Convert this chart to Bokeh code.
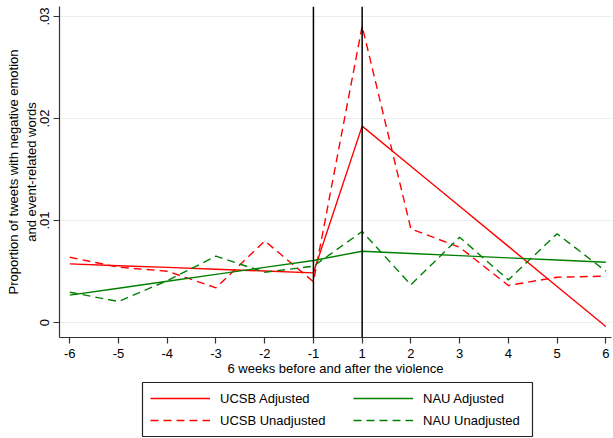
from bokeh.plotting import figure
from bokeh.models import FixedTicker, Span, Legend, LegendItem, Range1d, BoxAnnotation
from bokeh.layouts import column
from bokeh.embed import file_html
from bokeh.resources import INLINE

# ---- data ----
weeks = [-6, -5, -4, -3, -2, -1, 1, 2, 3, 4, 5, 6]
ucsb_adjusted = [0.00575, 0.00557, 0.0054, 0.00522, 0.00505, 0.00487,
                 0.01925, 0.01532, 0.01139, 0.00746, 0.00353, -0.00039]
ucsb_unadjusted = [0.0064, 0.00542, 0.00503, 0.0034, 0.0080, 0.0040,
                   0.02905, 0.00918, 0.00738, 0.00363, 0.00444, 0.00454]
nau_adjusted = [0.00268, 0.00336, 0.00404, 0.00472, 0.0054, 0.00608,
                0.00699, 0.00677, 0.00656, 0.00634, 0.00613, 0.00591]
nau_unadjusted = [0.00297, 0.00206, 0.0041, 0.0065, 0.00493, 0.00552,
                  0.00892, 0.0037, 0.00836, 0.00418, 0.0087, 0.00503]
y_ticks = [0, 0.01, 0.02, 0.03]
y_tick_labels = ["0", ".01", ".02", ".03"]
event_weeks = [-1, 1]

FONT = "Liberation Sans"
RED = "#ff0000"
GREEN = "#008000"
AXIS = "#333333"
LW = 1.4
DASH = "8 5"

pos = list(range(len(weeks)))  # weeks are equally spaced categories (no week 0)
series = [
    ("UCSB Adjusted", ucsb_adjusted, RED, "solid"),
    ("UCSB Unadjusted", ucsb_unadjusted, RED, DASH),
    ("NAU Adjusted", nau_adjusted, GREEN, "solid"),
    ("NAU Unadjusted", nau_unadjusted, GREEN, DASH),
]

x_range = Range1d(-0.211, 11.117)

p = figure(width=613, height=380, output_backend="svg", toolbar_location=None,
           x_range=x_range, y_range=Range1d(-0.00147, 0.03098),
           min_border_left=59, min_border_right=2, min_border_top=6,
           min_border_bottom=43, outline_line_color=None,
           background_fill_color="white", border_fill_color="white")

p.xgrid.visible = False
p.ygrid.grid_line_color = "#e6eef0"
p.ygrid.grid_line_width = 1.2
p.ygrid.ticker = FixedTicker(ticks=y_ticks)

xa = p.xaxis[0]
xa.ticker = FixedTicker(ticks=pos)
xa.major_label_overrides = {i: str(w) for i, w in zip(pos, weeks)}
xa.axis_label = "6 weeks before and after the violence"

ya = p.yaxis[0]
ya.ticker = FixedTicker(ticks=y_ticks)
ya.major_label_overrides = dict(zip(y_ticks, y_tick_labels))
ya.major_label_orientation = "vertical"
ya.axis_label = "Proportion of tweets with negative emotion\nand event-related words"

for ax in (xa, ya):
    ax.axis_line_color = AXIS
    ax.axis_line_width = 1.2
    ax.major_tick_line_color = AXIS
    ax.major_tick_line_width = 1.2
    ax.major_tick_out = 6
    ax.major_tick_in = 0
    ax.minor_tick_line_color = None
    ax.major_label_text_font = FONT
    ax.major_label_text_font_size = "13px"
    ax.major_label_text_color = "black"
    ax.axis_label_text_font = FONT
    ax.axis_label_text_font_size = "13px"
    ax.axis_label_text_font_style = "normal"
    ax.axis_label_text_color = "black"

xa.major_label_standoff = 5
xa.axis_label_standoff = 0
ya.major_label_standoff = 4
ya.axis_label_standoff = -1

for w in event_weeks:
    p.add_layout(Span(location=weeks.index(w), dimension="height",
                      line_color="black", line_width=1.5))

for name, vals, color, dash in series:
    p.line(pos, vals, line_color=color, line_width=LW, line_dash=dash)

# ---- legend panel (separate strip under the chart, same left/right borders) ----
lg = figure(width=613, height=58, output_backend="svg", toolbar_location=None,
            x_range=x_range, y_range=Range1d(1, 2),  # series lie out of view here
            x_axis_type=None, y_axis_type=None,
            min_border_left=59, min_border_right=2, min_border_top=0,
            min_border_bottom=0, outline_line_color=None,
            background_fill_color="white", border_fill_color="white")
lg.xgrid.visible = False
lg.ygrid.visible = False

swatch = {}
for name, vals, color, dash in series:
    swatch[name] = lg.line(pos, vals, line_color=color, line_width=LW, line_dash=dash)

lg.add_layout(BoxAnnotation(left=83, right=473, top=56, bottom=2,
                            left_units="screen", right_units="screen",
                            top_units="screen", bottom_units="screen",
                            fill_color=None, fill_alpha=0,
                            line_color="#222222", line_width=1.2, line_alpha=1))

def make_legend(names, loc):
    leg = Legend(items=[LegendItem(label=n, renderers=[swatch[n]]) for n in names],
                 location=loc, orientation="vertical",
                 padding=0, margin=0, spacing=2, glyph_width=60,
                 glyph_height=20, label_height=20, label_standoff=10,
                 border_line_alpha=0, background_fill_alpha=0,
                 label_text_font=FONT, label_text_font_size="13px",
                 label_text_color="black")
    lg.add_layout(leg, "center")

make_legend(["UCSB Adjusted", "UCSB Unadjusted"], (91, 8))
make_legend(["NAU Adjusted", "NAU Unadjusted"], (294, 8))

layout = column(p, lg, spacing=0)
open("out.html", "w").write(file_html(layout, INLINE))
